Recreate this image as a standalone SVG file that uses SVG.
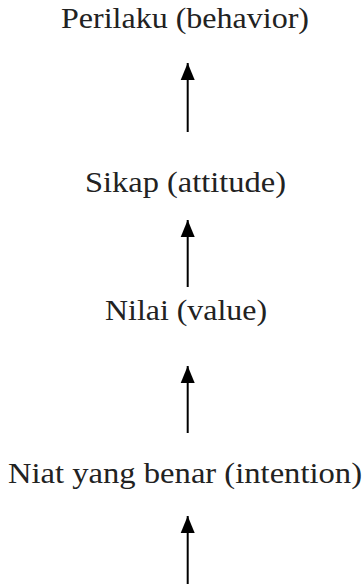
<svg xmlns="http://www.w3.org/2000/svg" width="364" height="585" viewBox="0 0 364 585">
  <style>
    .lbl { font-family: "Liberation Serif", "Times New Roman", serif; font-size: 30px; fill: #222; }
    .conn { stroke: #000; stroke-width: 2; fill: none; }
  </style>
  <defs>
    <marker id="ah" markerUnits="userSpaceOnUse" markerWidth="18" markerHeight="16" refX="17" refY="7" orient="auto" viewBox="0 0 18 14">
      <path d="M17,7 L0,14 L0,0 Z" fill="#000"/>
    </marker>
  </defs>
  <rect width="364" height="585" fill="#fff"/>
  <g id="n-perilaku"><text class="lbl" x="61" y="28" textLength="248" lengthAdjust="spacingAndGlyphs">Perilaku (behavior)</text></g>
  <g id="n-sikap"><text class="lbl" x="85" y="191.5" textLength="201" lengthAdjust="spacingAndGlyphs">Sikap (attitude)</text></g>
  <g id="n-nilai"><text class="lbl" x="105" y="320" textLength="162" lengthAdjust="spacingAndGlyphs">Nilai (value)</text></g>
  <g id="n-niat"><text class="lbl" x="8" y="482.5" textLength="354" lengthAdjust="spacingAndGlyphs">Niat yang benar (intention)</text></g>
  <g id="connectors">
    <line class="conn" x1="187.7" y1="132" x2="187.7" y2="63" marker-end="url(#ah)"/>
    <line class="conn" x1="187.7" y1="287" x2="187.7" y2="220" marker-end="url(#ah)"/>
    <line class="conn" x1="187.7" y1="433" x2="187.7" y2="366" marker-end="url(#ah)"/>
    <line class="conn" x1="187.7" y1="584" x2="187.7" y2="516" marker-end="url(#ah)"/>
  </g>
</svg>
